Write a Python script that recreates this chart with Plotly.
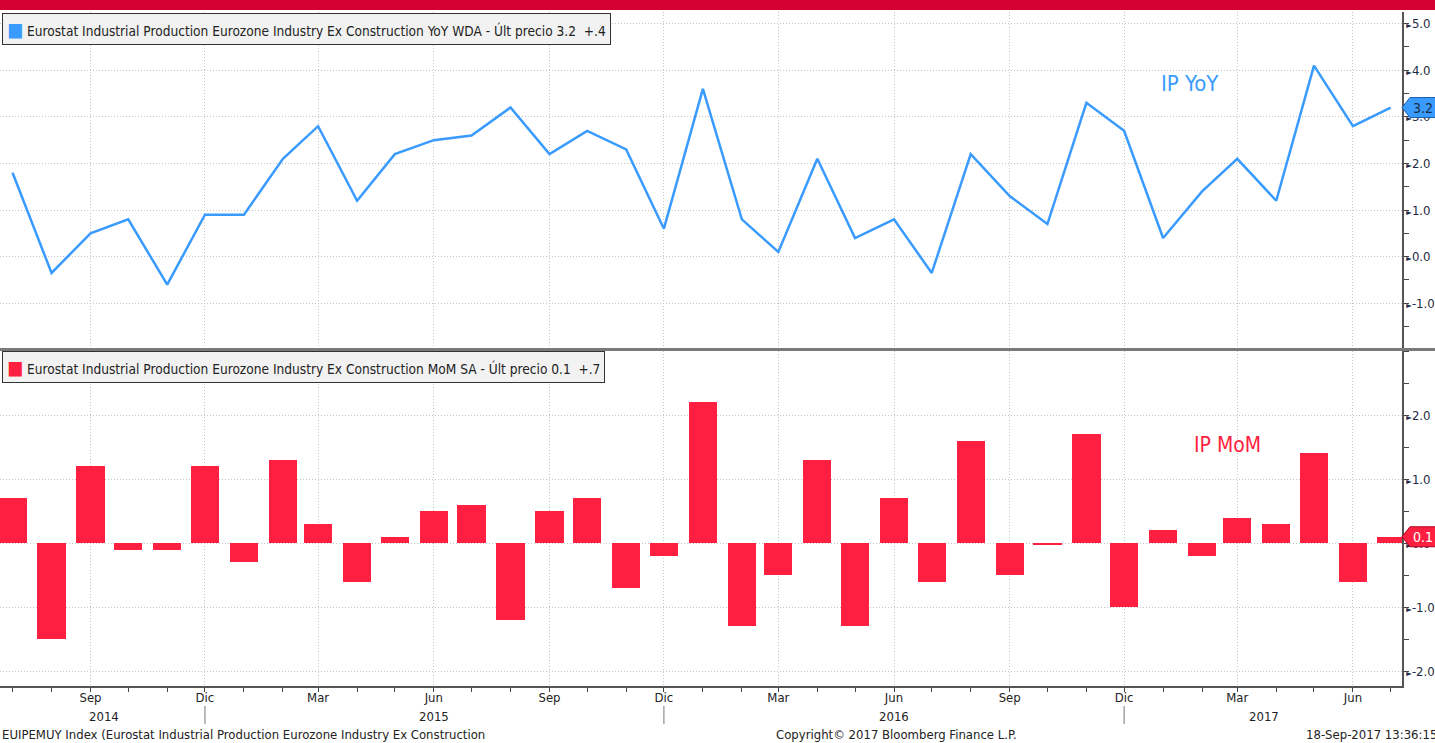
import pandas as pd
import plotly.graph_objects as go

# ---------------- data ----------------
start_month = "2014-07-01"
n_months = 37
yoy = [1.8, -0.35, 0.5, 0.8, -0.6, 0.9,
       0.9, 2.1, 2.8, 1.2, 2.2, 2.5, 2.6, 3.2, 2.2, 2.7, 2.3, 0.6,
       3.6, 0.8, 0.1, 2.1, 0.4, 0.8, -0.35, 2.2, 1.3, 0.7, 3.3, 2.7,
       0.4, 1.4, 2.1, 1.2, 4.1, 2.8, 3.2]
mom = [0.7, -1.5, 1.2, -0.1, -0.1, 1.2,
       -0.3, 1.3, 0.3, -0.6, 0.1, 0.5, 0.6, -1.2, 0.5, 0.7, -0.7, -0.2,
       2.2, -1.3, -0.5, 1.3, -1.3, 0.7, -0.6, 1.6, -0.5, -0.03, 1.7, -1.0,
       0.2, -0.2, 0.4, 0.3, 1.4, -0.6, 0.1]
tick_dates = ["2014-09-01", "2014-12-01", "2015-03-01", "2015-06-01", "2015-09-01",
              "2015-12-01", "2016-03-01", "2016-06-01", "2016-09-01", "2016-12-01",
              "2017-03-01", "2017-06-01"]
tick_text = ["Sep", "Dic", "Mar", "Jun", "Sep", "Dic", "Mar", "Jun", "Sep", "Dic", "Mar", "Jun"]
years = ["2014", "2015", "2016", "2017"]
year_pos = ["2014-09-12", "2015-06-01", "2016-06-01", "2017-03-22"]
year_breaks = ["2014-12-01", "2015-12-01", "2016-12-01"]
yoy_ticks = [-1.0, 0.0, 1.0, 2.0, 3.0, 4.0, 5.0]
mom_ticks = [-2.0, -1.0, 0.0, 1.0, 2.0]

legend_yoy = "Eurostat Industrial Production Eurozone Industry Ex Construction YoY WDA - Últ precio 3.2  +.4"
legend_mom = "Eurostat Industrial Production Eurozone Industry Ex Construction MoM SA - Últ precio 0.1  +.7"
footer_left = "EUIPEMUY Index (Eurostat Industrial Production Eurozone Industry Ex Construction"
footer_mid = "Copyright© 2017 Bloomberg Finance L.P."
footer_right = "18-Sep-2017 13:36:15"

months = pd.date_range(start_month, periods=n_months, freq="MS")

# ---------------- style ----------------
FONT = "Liberation Sans Narrow, DejaVu Sans Condensed, Arial Narrow, sans-serif"
BLUE = "#3a9bff"
RED = "#ff1f40"
AXIS_TXT = "#1c2b45"
GRID = "#c4c4c4"
GDASH = "1px,2px"
W, H = 1435, 743
ML, MR, MT, MB = 0, 33, 12, 57
PW = W - ML - MR
PH = H - MT - MB
top_dom = [(686 - 348) / PH, 1.0]
bot_dom = [0.0, (686 - 351) / PH]
bar_width_ms = 0.74 * 30.44 * 86400000

fig = go.Figure()
fig.add_trace(go.Scatter(x=months, y=yoy, mode="lines", line=dict(color=BLUE, width=2.5),
                         xaxis="x", yaxis="y", showlegend=False))
fig.add_trace(go.Bar(x=months, y=mom, marker=dict(color=RED, line=dict(width=0)),
                     width=bar_width_ms, xaxis="x2", yaxis="y2", showlegend=False))


def tri_text(vals):
    return ["<span style='font-size:8px'>►</span>%.1f" % v for v in vals]


xcommon = dict(type="date", range=["2014-06-21", "2017-07-10"], showgrid=True,
               gridcolor=GRID, griddash=GDASH, gridwidth=1, tickvals=tick_dates,
               zeroline=False)

fig.update_layout(
    width=W, height=H,
    margin=dict(l=ML, r=MR, t=MT, b=MB),
    paper_bgcolor="white", plot_bgcolor="white",
    font=dict(family=FONT, size=13, color="#222"),
    bargap=0,
    xaxis=dict(**xcommon, domain=[0, 1], anchor="y", showticklabels=False, ticks="",
               showline=False),
    xaxis2=dict(**xcommon, domain=[0, 1], anchor="y2", matches="x", ticktext=tick_text,
                showticklabels=True, ticks="outside", ticklen=4, tickcolor="#444",
                ticklabelstandoff=-5,
                showline=True, linecolor="#555", linewidth=1.5,
                tickfont=dict(family=FONT, size=13, color="#222"),
                minor=dict(ticks="outside", ticklen=4, dtick="M1", tick0=start_month,
                           tickcolor="#444", showgrid=False)),
    yaxis=dict(domain=top_dom, anchor="x", side="right", range=[-1.96, 5.25],
               tickvals=yoy_ticks, ticktext=tri_text(yoy_ticks), ticks="",
               showgrid=True, gridcolor=GRID, griddash=GDASH, zeroline=False,
               showline=True, linecolor="#555", linewidth=1.5,
               tickfont=dict(family=FONT, size=13, color=AXIS_TXT),
               minor=dict(ticks="outside", ticklen=5, dtick=0.5, tickcolor="#444",
                          showgrid=False)),
    yaxis2=dict(domain=bot_dom, anchor="x2", side="right", range=[-2.23, 3.0],
                tickvals=mom_ticks, ticktext=tri_text(mom_ticks), ticks="",
                showgrid=True, gridcolor=GRID, griddash=GDASH, zeroline=False,
                showline=True, linecolor="#555", linewidth=1.5,
                tickfont=dict(family=FONT, size=13, color=AXIS_TXT),
                minor=dict(ticks="outside", ticklen=5, dtick=0.5, tickcolor="#444",
                           showgrid=False)),
)

shapes = []
ann = []
px = 1.0 / PW
py = 1.0 / PH
# top red banner
shapes.append(dict(type="rect", xref="paper", yref="paper", x0=-0.01, x1=1 + MR * px + 0.01,
                   y0=1 + 2 * py, y1=1 + 13 * py, fillcolor="#d50032", line=dict(width=0),
                   layer="above"))
# panel separator
shapes.append(dict(type="line", xref="paper", yref="paper", x0=0, x1=1 + MR * px,
                   y0=(686 - 349.5) * py, y1=(686 - 349.5) * py,
                   line=dict(color="#7a7a7a", width=3), layer="above"))
# year separators
for d in year_breaks:
    shapes.append(dict(type="line", xref="x2", yref="paper", x0=d, x1=d,
                       y0=-(706 - 686) * py, y1=-(724 - 686) * py,
                       line=dict(color="#777", width=1)))
# year labels
for yl, yp in zip(years, year_pos):
    ann.append(dict(x=yp, y=-(716 - 686) * py, xref="x2", yref="paper", text=yl,
                    showarrow=False, xanchor="center", yanchor="middle",
                    font=dict(family=FONT, size=13, color="#222")))

# last-value tags
def tag(val, yref, unit_px, fill, txtcol, border):
    h = 10.0 / unit_px
    x0 = 1.0
    x1 = 1 + 8 * px
    x2 = 1 + (MR + 2) * px
    path = "M %f,%f L %f,%f L %f,%f L %f,%f L %f,%f Z" % (
        x0, val, x1, val + h, x2, val + h, x2, val - h, x1, val - h)
    shapes.append(dict(type="path", path=path, xref="paper", yref=yref,
                       fillcolor=fill, line=dict(color=border, width=1), layer="above"))
    ann.append(dict(x=1 + 9 * px, y=val, xref="paper", yref=yref, text="%.1f" % val,
                    showarrow=False, xanchor="left", yanchor="middle",
                    font=dict(family=FONT, size=14, color=txtcol)))

tag(yoy[-1], "y", PH * (top_dom[1] - top_dom[0]) / (5.25 + 1.96), BLUE, AXIS_TXT, "#1a5fb4")
tag(mom[-1], "y2", PH * (bot_dom[1] - bot_dom[0]) / (3.0 + 2.23), RED, "white", "#b00020")

# legend boxes
LEG_FS = 13.6
ann.append(dict(x=2 * px, y=1 - 0.5 * py, xref="paper", yref="paper",
                text="<span style='color:%s;font-size:19px'>■</span> %s" % (BLUE, legend_yoy),
                showarrow=False, xanchor="left", yanchor="top", align="left",
                bgcolor="#f2f2f2", bordercolor="#333", borderwidth=1, borderpad=4,
                font=dict(family=FONT, size=LEG_FS, color="#222")))
ann.append(dict(x=2 * px, y=(686 - 351) * py, xref="paper", yref="paper",
                text="<span style='color:%s;font-size:19px'>■</span> %s" % (RED, legend_mom),
                showarrow=False, xanchor="left", yanchor="top", align="left",
                bgcolor="#f2f2f2", bordercolor="#333", borderwidth=1, borderpad=4,
                font=dict(family=FONT, size=LEG_FS, color="#222")))

# series labels
ann.append(dict(x="2017-01-22", y=3.71, xref="x", yref="y", text="IP YoY", showarrow=False,
                font=dict(family=FONT, size=22, color=BLUE)))
ann.append(dict(x="2017-02-21", y=1.53, xref="x2", yref="y2", text="IP MoM", showarrow=False,
                font=dict(family=FONT, size=21, color=RED)))

# footer
ann.append(dict(x=0, y=-(735 - 686) * py, xref="paper", yref="paper", text=footer_left,
                showarrow=False, xanchor="left", yanchor="middle",
                font=dict(family=FONT, size=13, color="#222")))
ann.append(dict(x=896 * px, y=-(735 - 686) * py, xref="paper", yref="paper", text=footer_mid,
                showarrow=False, xanchor="center", yanchor="middle",
                font=dict(family=FONT, size=13, color="#222")))
ann.append(dict(x=1 + (MR + 4) * px, y=-(735 - 686) * py, xref="paper", yref="paper",
                text=footer_right, showarrow=False, xanchor="right", yanchor="middle",
                font=dict(family=FONT, size=13, color="#222")))

fig.update_layout(shapes=shapes, annotations=ann)

fig.write_html("out.html", include_plotlyjs=True, full_html=True,
               config={"displayModeBar": False},
               post_script="document.body.style.margin='0';document.body.style.overflow='hidden';")
